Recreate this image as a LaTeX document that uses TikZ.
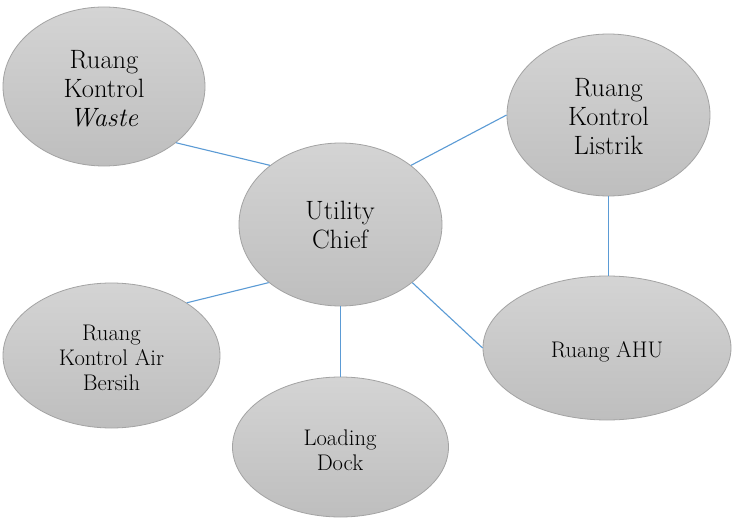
\documentclass[tikz,border=0pt]{standalone}
\usepackage{fontspec}
\usetikzlibrary{shapes.geometric}
\definecolor{topgray}{HTML}{D4D4D4}
\definecolor{botgray}{HTML}{BEBEBE}
\definecolor{rimgray}{HTML}{A3A3A3}
\definecolor{linkblue}{HTML}{5B9BD5}
\begin{document}
\begin{tikzpicture}[x=1pt,y=-1pt,
  bubble/.style={ellipse, draw=rimgray, line width=0.8pt, top color=topgray, bottom color=botgray, inner sep=0pt},
  bigtext/.style={anchor=north, inner sep=0pt, align=center, font=\rmfamily\fontsize{26.5}{29}\selectfont},
  smalltext/.style={anchor=north, inner sep=0pt, align=center, font=\rmfamily\fontsize{22.6}{25}\selectfont},
  link/.style={draw=linkblue, line width=1.1pt}]
\fill[white] (0,0) rectangle (732,519);
\useasboundingbox (0,0) rectangle (732,519);

\node[bubble, minimum width=202pt, minimum height=159pt] (W) at (104,86.5) {};
\node[bigtext] (Wt) at (104,50) {Ruang\\Kontrol\\\textit{Waste}};

\node[bubble, minimum width=203pt, minimum height=162pt] (L) at (608.5,115) {};
\node[bigtext] (Lt) at (608.5,78.5) {Ruang\\Kontrol\\Listrik};

\node[bubble, minimum width=203pt, minimum height=163pt] (U) at (340.5,224.5) {};
\node[bigtext] (Ut) at (340,201) {Utility\\Chief};

\node[bubble, minimum width=217pt, minimum height=145pt] (A) at (111.5,355.5) {};
\node[smalltext] (At) at (111.5,325) {Ruang\\Kontrol Air\\Bersih};

\node[bubble, minimum width=216pt, minimum height=140pt] (D) at (340.5,447) {};
\node[smalltext] (Dt) at (340,429.5) {Loading\\Dock};

\node[bubble, minimum width=248pt, minimum height=144pt] (H) at (607,348) {};
\node[smalltext] (Ht) at (607,341.5) {Ruang AHU};

\draw[link] (W.-38) -- (U.140);
\draw[link] (U.40) -- (L.west);
\draw[link] (L.south) -- (L.south |- H.north);
\draw[link] (U.-39) -- (H.west);
\draw[link] (U.south) -- (U.south |- D.north);
\draw[link] (U.-141) -- (A.35.5);
\end{tikzpicture}
\end{document}
